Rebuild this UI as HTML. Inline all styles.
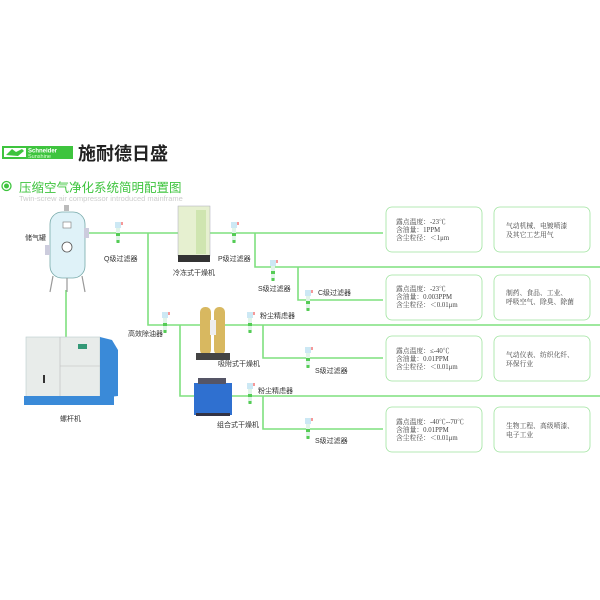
<!DOCTYPE html>
<html><head><meta charset="utf-8"><style>
body{margin:0;width:600px;height:600px;background:#fff;overflow:hidden}
svg{display:block}
.t{font-family:"Liberation Sans","Noto Sans CJK SC",sans-serif;font-size:7px;fill:#333}
.b{font-family:"Liberation Serif","Noto Serif CJK SC",serif;font-size:6.8px;fill:#444}
</style></head><body>
<svg width="600" height="600" viewBox="0 0 600 600">
<defs>
<g id="f"><rect x="-3" y="0" width="6" height="6" fill="#cce8f4"/><rect x="-2" y="6" width="4" height="14" fill="#e0f4e8"/><rect x="-2" y="11" width="4" height="3" fill="#5c5"/><rect x="-1.5" y="18" width="3" height="3" fill="#5c5"/><rect x="3.5" y="0" width="1" height="3" fill="#e33"/></g>
</defs>
<rect x="2" y="146" width="71" height="13" fill="#3ec43e"/>
<rect x="4" y="148" width="22" height="9" fill="#fff"/>
<path d="M6 155 L12 149 L16 152 L22 149 L24 151 L18 156 Z" fill="#3ec43e"/>
<text x="28" y="152.5" font-family="Liberation Sans" font-weight="bold" font-size="6" fill="#fff">Schneider</text>
<text x="28" y="158" font-family="Liberation Sans" font-size="5.5" fill="#dfffd8">Sunshine</text>
<text x="78" y="160" font-family="'Noto Sans CJK SC',sans-serif" font-weight="bold" font-size="18" fill="#222">施耐德日盛</text>
<circle cx="6.5" cy="186" r="4.5" fill="none" stroke="#3ec43e" stroke-width="1.3"/>
<circle cx="6.5" cy="186" r="2.5" fill="#3ec43e"/>
<text x="19" y="192" font-family="'Noto Sans CJK SC',sans-serif" font-size="12.5" fill="#3ec43e">压缩空气净化系统简明配置图</text>
<text x="19" y="201" font-family="Liberation Sans" font-size="7.5" fill="#ccc">Twin-screw air compressor introduced mainframe</text>

<g stroke="#7fe07f" stroke-width="1.6" fill="none">
<path d="M86 233 H383"/>
<path d="M66 290 V337"/>
<path d="M148 233 V325 H600"/>
<path d="M255 233 V267 H600"/>
<path d="M298 267 V300 H383"/>
<path d="M180 325 V396 H600"/>
<path d="M263 325 V358 H383"/>
<path d="M263 396 V429 H383"/>
</g>

<g fill="#fff" stroke="#9ee39e" stroke-width="0.8">
<rect x="386" y="207" width="96" height="45" rx="6"/><rect x="494" y="207" width="96" height="45" rx="6"/>
<rect x="386" y="275" width="96" height="45" rx="6"/><rect x="494" y="275" width="96" height="45" rx="6"/>
<rect x="386" y="336" width="96" height="45" rx="6"/><rect x="494" y="336" width="96" height="45" rx="6"/>
<rect x="386" y="407" width="96" height="45" rx="6"/><rect x="494" y="407" width="96" height="45" rx="6"/>
</g>
<g class="b">
<text x="396" y="224">露点温度：-23℃</text><text x="396" y="232">含油量：1PPM</text><text x="396" y="240">含尘粒径：＜1μm</text>
<text x="506" y="228">气动机械、电镀喷漆</text><text x="506" y="237">及其它工艺用气</text>
<text x="396" y="291">露点温度：-23℃</text><text x="396" y="299">含油量：0.003PPM</text><text x="396" y="307">含尘粒径：＜0.01μm</text>
<text x="506" y="295">制药、食品、工业、</text><text x="506" y="304">呼吸空气、除臭、除菌</text>
<text x="396" y="353">露点温度：≤-40℃</text><text x="396" y="361">含油量：0.01PPM</text><text x="396" y="369">含尘粒径：＜0.01μm</text>
<text x="506" y="357">气动仪表、纺织化纤、</text><text x="506" y="366">环保行业</text>
<text x="396" y="424">露点温度：-40℃--70℃</text><text x="396" y="432">含油量：0.01PPM</text><text x="396" y="440">含尘粒径：＜0.01μm</text>
<text x="506" y="428">生物工程、高级喷漆、</text><text x="506" y="437">电子工业</text>
</g>

<rect x="50" y="212" width="35" height="66" rx="12" fill="#dff2f8" stroke="#7aa" stroke-width="0.8"/>
<rect x="64" y="205" width="5" height="6" fill="#bbb"/>
<rect x="45" y="245" width="5" height="10" fill="#ccd"/><rect x="84" y="228" width="5" height="10" fill="#ccd"/>
<rect x="63" y="222" width="8" height="6" fill="#fff" stroke="#777" stroke-width="0.6"/>
<circle cx="67" cy="247" r="5" fill="#fff" stroke="#555" stroke-width="0.8"/>
<path d="M53 276 L50 292 M67 278 V292 M82 276 L85 292" stroke="#999" stroke-width="1.2"/>

<rect x="178" y="206" width="32" height="50" fill="#e6f0d0" stroke="#aab" stroke-width="0.5"/>
<rect x="196" y="210" width="10" height="44" fill="#cfe5b0"/>
<rect x="178" y="255" width="32" height="7" fill="#333"/>

<rect x="200" y="307" width="11" height="48" rx="5" fill="#d8b860"/>
<rect x="214" y="307" width="11" height="48" rx="5" fill="#d8b860"/>
<rect x="210" y="320" width="6" height="15" fill="#eee"/>
<rect x="196" y="353" width="34" height="7" fill="#444"/>

<rect x="194" y="383" width="38" height="32" fill="#2f70d0"/>
<rect x="198" y="378" width="28" height="6" fill="#556"/>
<rect x="196" y="413" width="34" height="3" fill="#334"/>

<rect x="26" y="337" width="74" height="61" fill="#e8ecea" stroke="#bcc" stroke-width="0.6"/>
<line x1="60" y1="337" x2="60" y2="398" stroke="#bbb" stroke-width="0.6"/>
<line x1="60" y1="366" x2="100" y2="366" stroke="#bbb" stroke-width="0.6"/>
<rect x="43" y="375" width="2" height="8" fill="#333"/>
<rect x="78" y="344" width="9" height="5" fill="#397"/>
<path d="M100 337 L112 340 L118 350 V396 L100 398 Z" fill="#3a8ad8"/>
<rect x="24" y="396" width="90" height="9" fill="#3a8ad8"/>

<use href="#f" x="118" y="222"/>
<use href="#f" x="234" y="222"/>
<use href="#f" x="273" y="260"/>
<use href="#f" x="308" y="290"/>
<use href="#f" x="165" y="312"/>
<use href="#f" x="250" y="312"/>
<use href="#f" x="308" y="347"/>
<use href="#f" x="250" y="383"/>
<use href="#f" x="308" y="418"/>

<g class="t">
<text x="25" y="240">储气罐</text>
<text x="104" y="261">Q级过滤器</text>
<text x="173" y="275">冷冻式干燥机</text>
<text x="218" y="261">P级过滤器</text>
<text x="258" y="291">S级过滤器</text>
<text x="318" y="295">C级过滤器</text>
<text x="260" y="318">粉尘精虑器</text>
<text x="128" y="336">高效除油器</text>
<text x="218" y="366">吸附式干燥机</text>
<text x="315" y="373">S级过滤器</text>
<text x="258" y="393">粉尘精虑器</text>
<text x="217" y="427">组合式干燥机</text>
<text x="315" y="443">S级过滤器</text>
<text x="60" y="421">螺杆机</text>
</g>
</svg>
</body></html>
